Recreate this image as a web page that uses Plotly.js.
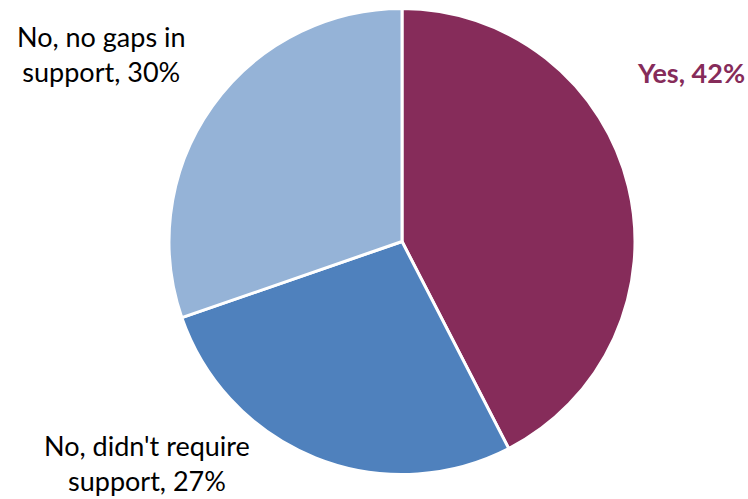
<!DOCTYPE html>
<html>
<head>
<meta charset="utf-8">
<script src="https://cdn.plot.ly/plotly-3.0.1.min.js"></script>
<style>html,body{margin:0;padding:0;background:#fff;}#chart{width:748px;height:499px;}</style>
</head>
<body>
<div id="chart"></div>
<script>
const categories = ["Yes", "No, didn't require support", "No, no gaps in support"];
const labelLines = ["Yes", "No, didn't require<br>support", "No, no gaps in<br>support"];
const values = [42, 27, 30];
const colors = ["#862C5A", "#4F81BD", "#95B3D7"];

const trace = {
  type: "pie",
  labels: categories,
  values: values,
  sort: false,
  direction: "clockwise",
  rotation: 0,
  textinfo: "none",
  hoverinfo: "label+percent",
  marker: {colors: colors, line: {color: "#ffffff", width: 3}},
  domain: {x: [(402 - 233) / 748, (402 + 233) / 748], y: [1 - 475 / 499, 1 - 8 / 499]},
  showlegend: false
};

const W = 748, H = 499;
const labelPos = [
  {x: 691, y: 72, bold: true, color: colors[0]},
  {x: 147, y: 463, bold: false, color: "#000000"},
  {x: 101, y: 54, bold: false, color: "#000000"}
];

const annotations = categories.map((c, i) => {
  const p = labelPos[i];
  const t = labelLines[i] + ", " + values[i] + "%";
  return {
    xref: "paper", yref: "paper",
    x: p.x / W, y: 1 - p.y / H,
    xanchor: "center", yanchor: "middle",
    showarrow: false, align: "center",
    text: p.bold ? "<b>" + t + "</b>" : t,
    font: {family: "Lato, 'Open Sans', sans-serif", size: 27, color: p.color}
  };
});

const layout = {
  width: W, height: H,
  margin: {l: 0, r: 0, t: 0, b: 0},
  paper_bgcolor: "#ffffff",
  plot_bgcolor: "#ffffff",
  annotations: annotations
};

Plotly.newPlot("chart", [trace], layout, {displayModeBar: false, staticPlot: true});
</script>
</body>
</html>
